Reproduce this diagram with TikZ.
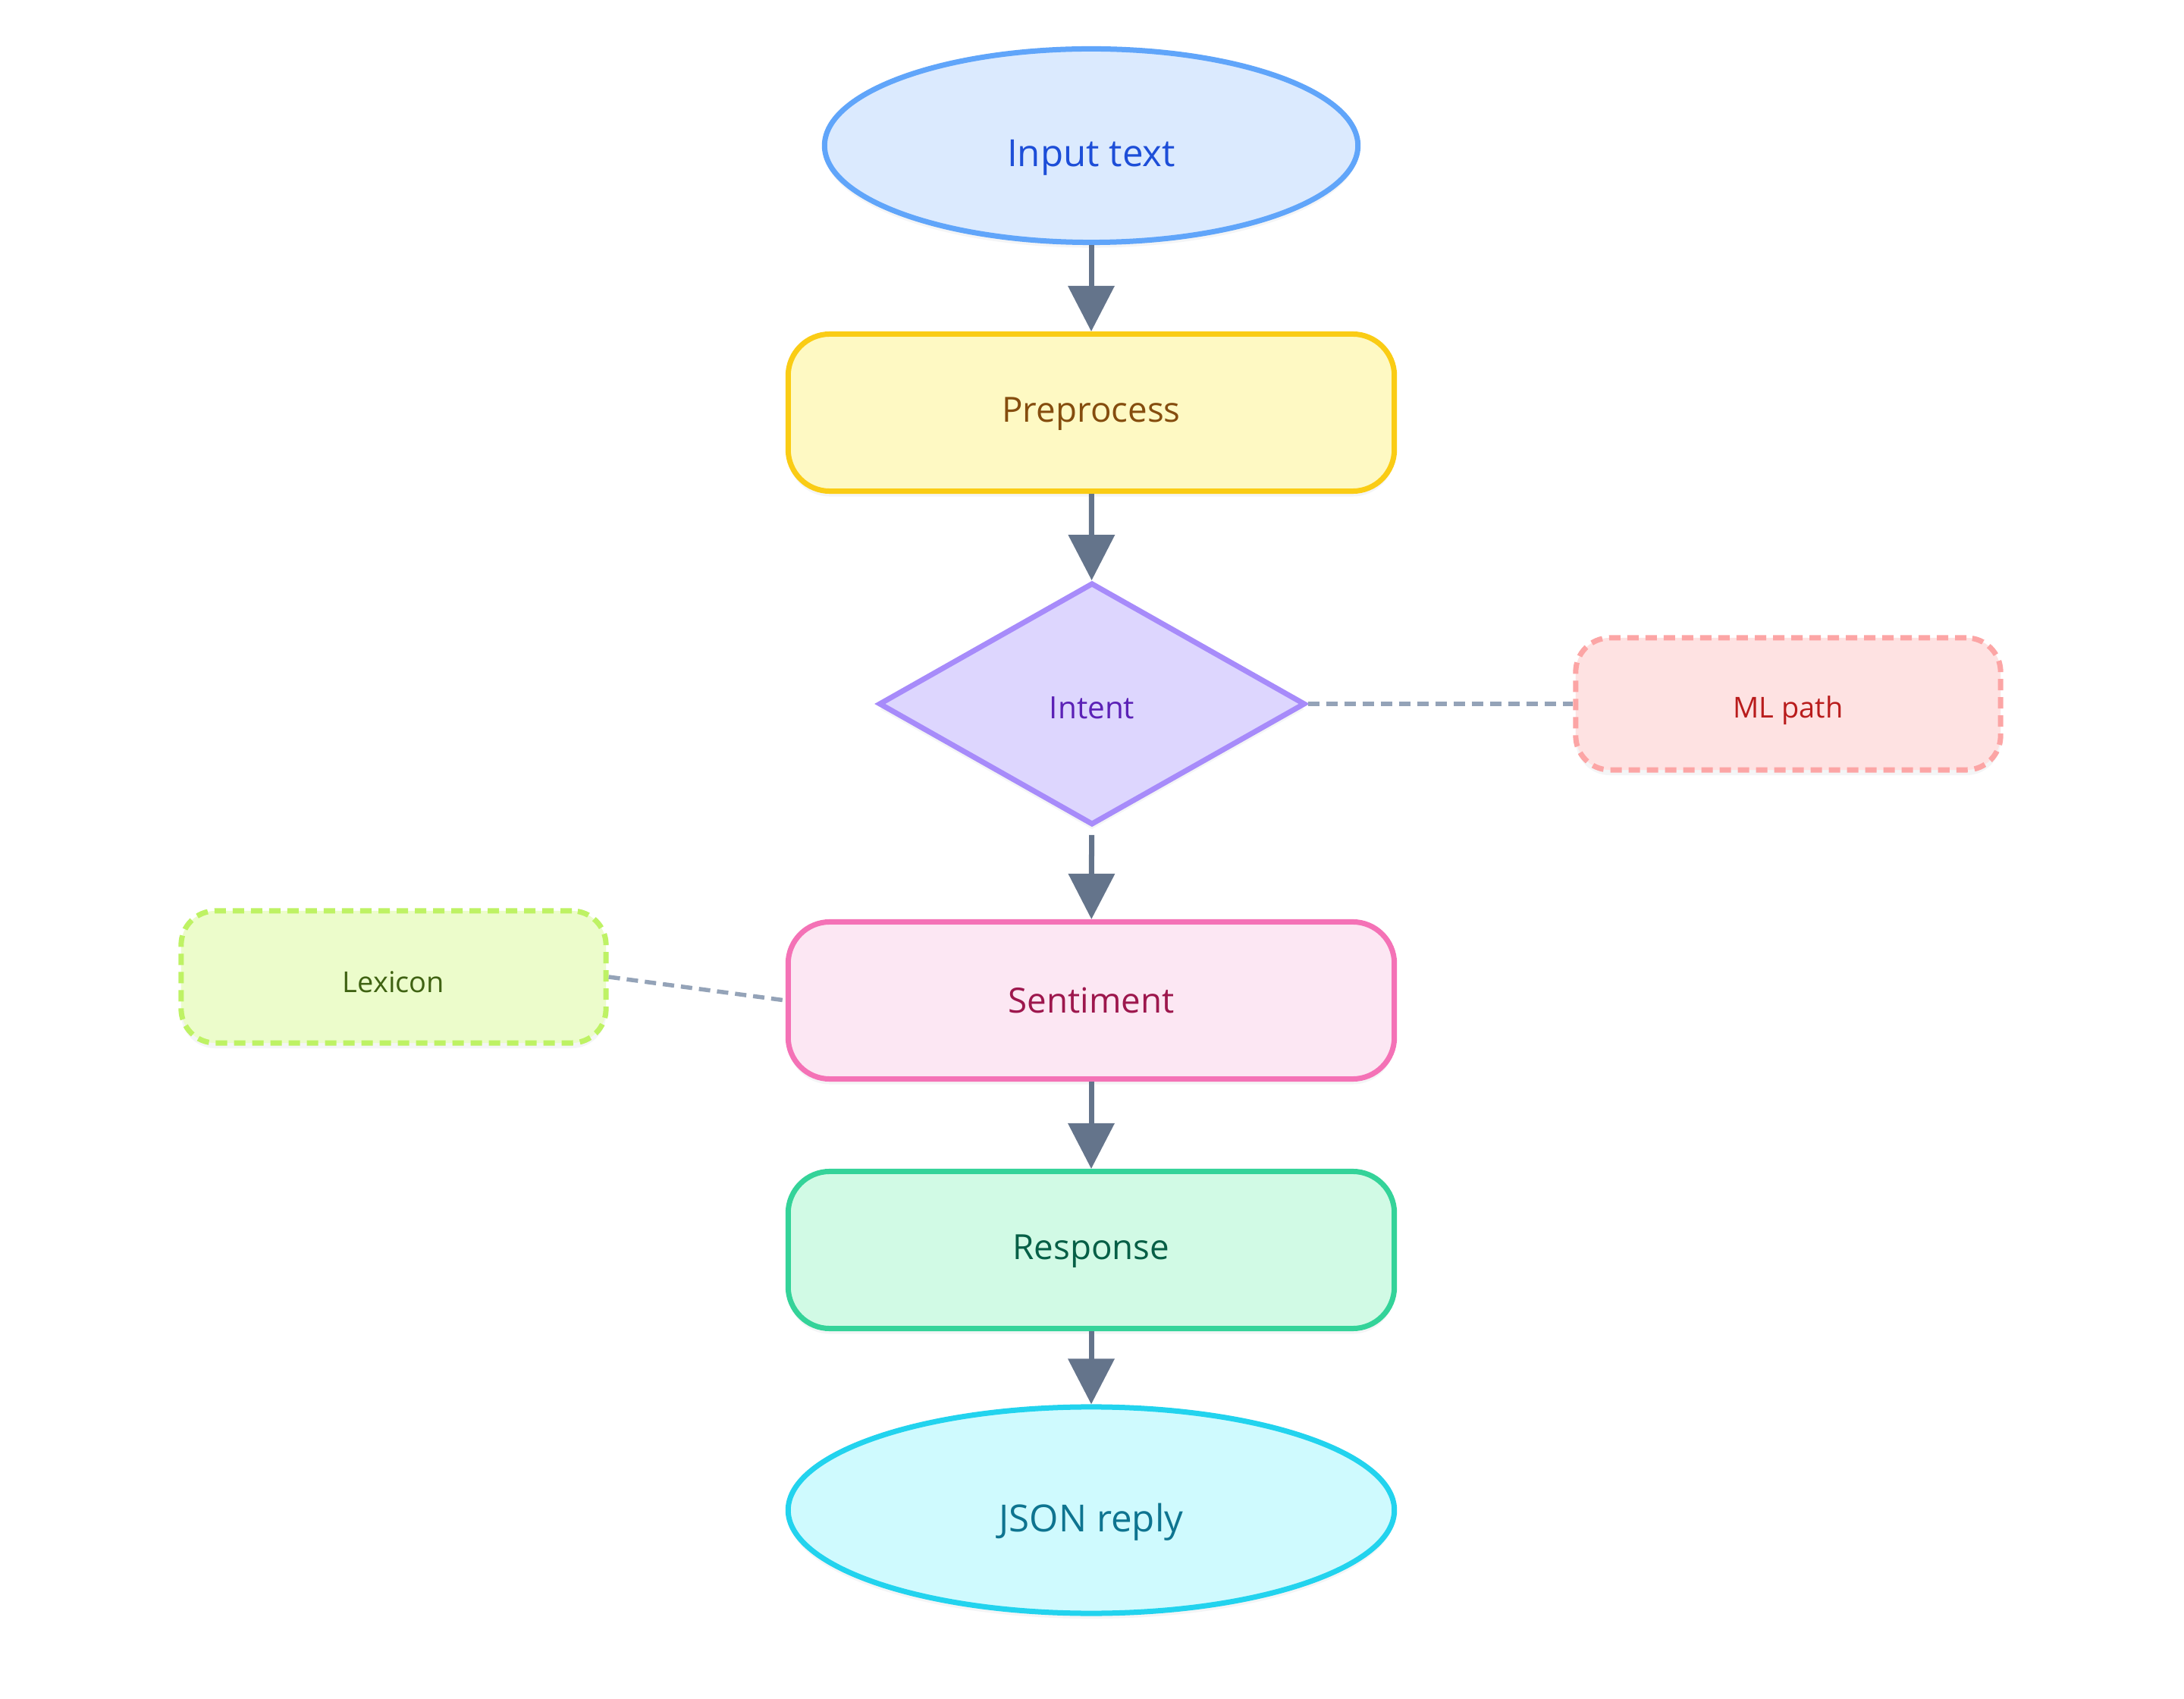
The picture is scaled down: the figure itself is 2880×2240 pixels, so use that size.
\documentclass[tikz,border=0pt]{standalone}
\usepackage{fontspec}
\setmainfont{Open Sans}
\usetikzlibrary{shapes.geometric,arrows.meta,shadows}
\definecolor{arrowc}{HTML}{64748B}
\definecolor{dashc}{HTML}{94A3B8}
\definecolor{inF}{HTML}{DBEAFE}\definecolor{inD}{HTML}{60A5FA}\definecolor{inT}{HTML}{1D4ED8}
\definecolor{ppF}{HTML}{FEF9C3}\definecolor{ppD}{HTML}{FACC15}\definecolor{ppT}{HTML}{854D0E}
\definecolor{itF}{HTML}{DDD6FE}\definecolor{itD}{HTML}{A78BFA}\definecolor{itT}{HTML}{5B21B6}
\definecolor{mlF}{HTML}{FEE2E2}\definecolor{mlD}{HTML}{FCA5A5}\definecolor{mlT}{HTML}{B91C1C}
\definecolor{seF}{HTML}{FCE7F3}\definecolor{seD}{HTML}{F472B6}\definecolor{seT}{HTML}{9D174D}
\definecolor{lxF}{HTML}{ECFCCB}\definecolor{lxD}{HTML}{BEF264}\definecolor{lxT}{HTML}{3F6212}
\definecolor{rsF}{HTML}{D1FAE5}\definecolor{rsD}{HTML}{34D399}\definecolor{rsT}{HTML}{065F46}
\definecolor{jsF}{HTML}{CFFAFE}\definecolor{jsD}{HTML}{22D3EE}\definecolor{jsT}{HTML}{0E7490}
\newcommand{\lowtxt}[2]{\raisebox{-#1}[\height][\depth]{#2}}
\begin{document}
\begin{tikzpicture}[x=0.01cm,y=-0.01cm,
  shade/.style={drop shadow={shadow xshift=0cm,shadow yshift=-0.07cm,opacity=0.07,fill=arrowc}},
  base/.style={line width=0.07cm,shade,inner sep=0pt,align=center},
  oval/.style={base,ellipse,minimum width=7.03cm,minimum height=2.55cm,font=\fontsize{14}{16}\selectfont},
  proc/.style={base,rectangle,rounded corners=0.55cm,minimum width=7.99cm,minimum height=2.07cm,font=\fontsize{13}{15}\selectfont},
  note/.style={base,rectangle,rounded corners=0.45cm,minimum width=5.6cm,minimum height=1.74cm,dash pattern=on 0.15cm off 0.09cm,font=\fontsize{10.8}{13}\selectfont},
  flow/.style={draw=arrowc,line width=0.07cm,-{Triangle[length=0.6cm,width=0.6cm]}},
  link/.style={draw=dashc,line width=0.055cm,dash pattern=on 0.15cm off 0.09cm}
]
\useasboundingbox (0,0) rectangle (2880,2240);
\fill[white] (0,0) rectangle (2880,2240);
\node[oval,fill=inF,draw=inD,text=inT] (input) at (1439,192) {\lowtxt{0.16cm}{Input text}};
\node[proc,fill=ppF,draw=ppD,text=ppT] (pre) at (1439,544) {\lowtxt{0.02cm}{Preprocess}};
\node[base,diamond,minimum width=5.62cm,minimum height=3.19cm,fill=itF,draw=itD,text=itT,font=\fontsize{11.5}{13}\selectfont] (intent) at (1440,928) {\lowtxt{0.05cm}{Intent}};
\node[note,fill=mlF,draw=mlD,text=mlT] (ml) at (2358,928) {\lowtxt{0.09cm}{ML path}};
\node[proc,fill=seF,draw=seD,text=seT] (sent) at (1439,1319) {Sentiment};
\node[note,fill=lxF,draw=lxD,text=lxT] (lex) at (519,1288) {\lowtxt{0.07cm}{Lexicon}};
\node[proc,fill=rsF,draw=rsD,text=rsT] (resp) at (1439,1648) {\lowtxt{0.02cm}{Response}};
\node[oval,minimum width=7.99cm,minimum height=2.72cm,fill=jsF,draw=jsD,text=jsT] (json) at (1439,1991) {\lowtxt{0.16cm}{JSON reply}};
\draw[flow] (input) -- (pre);
\draw[flow] (pre) -- (intent);
\draw[flow,shorten <=0.1cm] (intent) -- (sent);
\draw[flow] (sent) -- (resp);
\draw[flow] (resp) -- (json);
\draw[link] (intent.east) -- (ml.west);
\draw[link] (lex.east) -- (sent.west);
\end{tikzpicture}
\end{document}
